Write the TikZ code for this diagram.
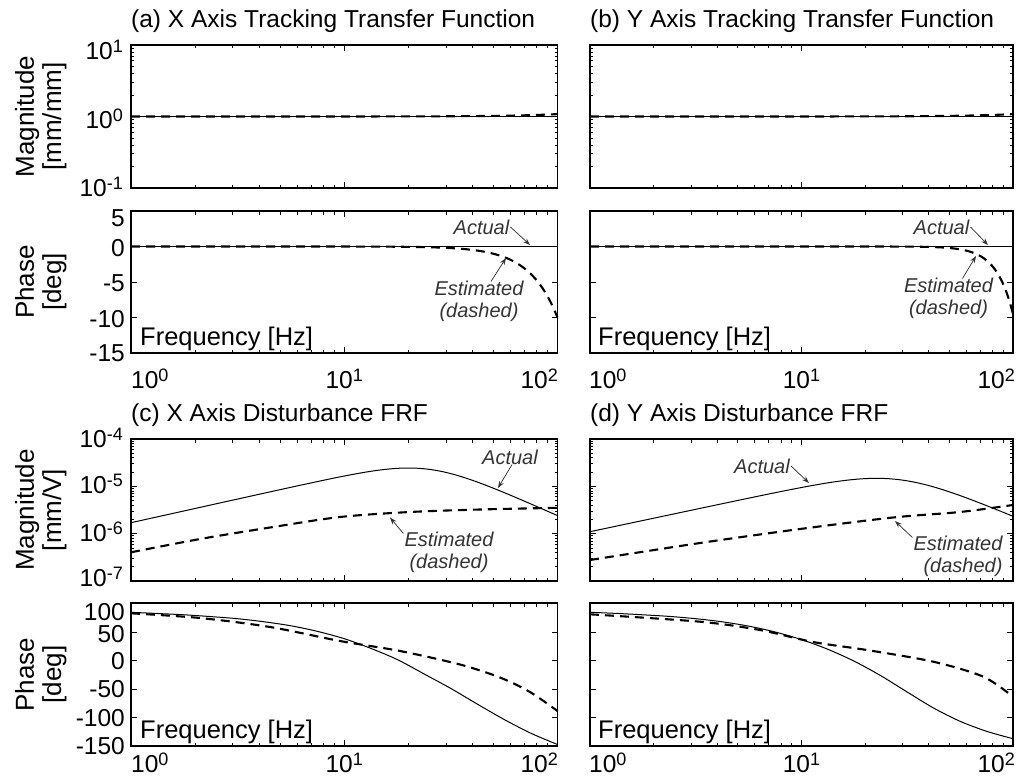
\documentclass[tikz,border=0pt]{standalone}
\usepackage{fontspec}
\setmainfont{Liberation Sans}
\usetikzlibrary{arrows.meta}

\definecolor{notegray}{gray}{0.2}

% power-of-ten tick label: base and raised exponent
\newcommand\tenpow[1]{10\raisebox{7pt}{\fontsize{18}{18}\selectfont #1}}

\tikzset{
  frame/.style={line width=1.9pt, line join=miter},
  tickline/.style={line width=0.8pt},
  actual/.style={line width=1.0pt},
  estimated/.style={line width=2.1pt, dash pattern=on 9pt off 6pt},
  note/.style={font=\fontsize{20}{22}\selectfont\itshape, text=notegray, inner sep=0pt},
  pointer/.style={-{Stealth[length=7pt,width=5pt]}, line width=0.75pt, notegray},
  ticklabel/.style={font=\fontsize{24.5}{26}\selectfont, inner sep=0pt},
  axlabel/.style={font=\fontsize{26}{28}\selectfont, inner sep=0pt, rotate=90, anchor=base},
  paneltitle/.style={font=\fontsize{24.5}{28}\selectfont, inner sep=0pt, anchor=base west},
  freqlabel/.style={font=\fontsize{25.5}{28}\selectfont, inner sep=0pt, anchor=base west},
}

% minor/major ticks of a two-decade log frequency axis: {x0}{width}{top}{bottom}
\newcommand\freqticks[4]{%
  \foreach \d in {0,1}{\foreach \k in {2,...,9}{%
    \pgfmathsetmacro\tx{#1+#2*(\d+log10(\k))/2}%
    \draw[tickline] (\tx,#3) -- ++(0,3.5) (\tx,#4) -- ++(0,-3.5);}}%
  \pgfmathsetmacro\tx{#1+#2/2}%
  \draw[tickline] (\tx,#3) -- ++(0,6) (\tx,#4) -- ++(0,-6);}

% log magnitude ticks on both sides: {x0}{x1}{top}{bottom}{decades}
\newcommand\magticks[5]{%
  \pgfmathsetmacro\hd{(#4-#3)/#5}%
  \pgfmathtruncatemacro\nd{#5-1}%
  \foreach \d in {0,...,\nd}{\foreach \k in {2,...,9}{%
    \pgfmathsetmacro\ty{#4-\hd*(\d+log10(\k))}%
    \draw[tickline] (#1,\ty) -- ++(3,0) (#2,\ty) -- ++(-3,0);}}%
  \foreach \d in {1,...,\nd}{%
    \pgfmathsetmacro\ty{#4-\hd*\d}%
    \draw[tickline] (#1,\ty) -- ++(6,0) (#2,\ty) -- ++(-6,0);}}

% linear phase ticks on both sides: {x0}{x1}{list of y}
\newcommand\phaseticks[3]{%
  \foreach \ty in {#3}{\draw[tickline] (#1,\ty) -- ++(6,0) (#2,\ty) -- ++(-6,0);}}

\begin{document}
\begin{tikzpicture}[x=1pt, y=-1pt]
\useasboundingbox (0,0) rectangle (1023,776);

% ---------------- ticks ----------------
\freqticks{131}{426.5}{45}{188}
\freqticks{590}{423}{45}{188}
\freqticks{131}{426.5}{211}{353}
\freqticks{590}{423}{211}{353}
\freqticks{131}{426.5}{439}{581}
\freqticks{590}{423}{439}{581}
\freqticks{131}{426.5}{603}{746}
\freqticks{590}{423}{603}{746}
\magticks{131}{557.5}{45}{188}{2}
\magticks{590}{1013}{45}{188}{2}
\magticks{131}{557.5}{439}{581}{3}
\magticks{590}{1013}{439}{581}{3}
\phaseticks{131}{557.5}{246.5,282,317.5}
\phaseticks{590}{1013}{246.5,282,317.5}
\phaseticks{131}{557.5}{632.2,660.7,689.2,717.7}
\phaseticks{590}{1013}{632.2,660.7,689.2,717.7}

% ---------------- curves ----------------
% (a) tracking magnitude
\draw[actual] (131,116.5) -- (557.5,116.5);
\draw[estimated] (131,116.5) -- plot[domain=1:2, samples=40]
  ({131+213.25*\x}, {116.5-71.5*log10(1+0.08*10^(2*\x-4))});
% (b) tracking magnitude
\draw[actual] (590,116.5) -- (1013,116.5);
\draw[estimated] (590,116.5) -- plot[domain=1:2, samples=40]
  ({590+211.5*\x}, {116.5-71.5*log10(1+0.08*10^(2*\x-4))});
% (a) tracking phase
\draw[actual] (131,246.5) -- (557.5,246.5);
\draw[estimated] (131,246.5) -- plot[domain=1:2, samples=60]
  ({131+213.25*\x}, {246.5+7.1*10*10^(3.3*(\x-2))});
% (b) tracking phase
\draw[actual] (590,246.5) -- (1013,246.5);
\draw[estimated] (590,246.5) -- plot[domain=1:2, samples=60]
  ({590+211.5*\x}, {246.5+7.1*9.5*10^(5.5*(\x-2))});

% (c) disturbance magnitude: soft maximum of the two asymptotes
\draw[actual] plot[domain=131:557.5, samples=90]
  (\x, {max(522.7-0.222*(\x-131), 515.5+0.444*(\x-557.5))
        + 17*ln(1+exp(-abs((522.7-0.222*(\x-131))-(515.5+0.444*(\x-557.5)))/17))});
\draw[estimated] plot[smooth] coordinates {(131,552.3) (200,539) (270,527.5) (340,517)
  (410,512) (480,509.5) (557.5,507.8)};
% (d) disturbance magnitude
\draw[actual] plot[domain=590:1013, samples=90]
  (\x, {max(531.7-0.212*(\x-590), 516+0.42*(\x-1013))
        + 18*ln(1+exp(-abs((531.7-0.212*(\x-590))-(516+0.42*(\x-1013)))/18))});
\draw[estimated] plot[smooth] coordinates {(590,560) (700,543) (800,529) (893,517.5)
  (960,512) (1013,505)};
% (c) disturbance phase
\draw[actual] plot[smooth] coordinates {(131,612.3) (157.7,613.5) (184.3,614.8) (211,616.6)
  (237.6,618.7) (264.3,621.8) (291,625.8) (317.6,631.4) (344.3,638.7) (370.9,648.4)
  (397.6,659.7) (424.2,674) (450.9,688.5) (477.5,704.2) (504.2,719.5) (530.8,733.2) (557.5,744.5)};
\draw[estimated] plot[smooth] coordinates {(131,613.3) (200,618) (270,627) (340,641)
  (400,651) (460,664.5) (500,677.5) (530,692) (557.5,711)};
% (d) disturbance phase
\draw[actual] plot[smooth] coordinates {(590,612.3) (616.4,613.4) (642.9,614.8) (669.3,616.4)
  (695.8,618.7) (722.2,621.8) (748.6,626.1) (775.1,632) (801.5,639.6) (827.9,649.3)
  (854.4,661.3) (880.8,675.7) (907.3,692.1) (933.7,708.1) (960.1,721.3) (986.6,731.3) (1013,738.7)};
\draw[estimated] plot[smooth] coordinates {(590,614.3) (700,621.7) (760,630) (813,642)
  (866.7,650) (933.3,661.7) (983.3,676.7) (1013,696.7)};

% ---------------- frames ----------------
\foreach \xa/\xb in {131/557.5, 590/1013}{
  \draw[frame] (\xa,45) rectangle (\xb,188);
  \draw[frame] (\xa,211) rectangle (\xb,353);
  \draw[frame] (\xa,439) rectangle (\xb,581);
  \draw[frame] (\xa,603) rectangle (\xb,746);
}

% ---------------- titles ----------------
\node[paneltitle] (ta) at (131,28) {(a) X Axis Tracking Transfer Function};
\node[paneltitle] (tb) at (590,28) {(b) Y Axis Tracking Transfer Function};
\node[paneltitle] (tc) at (131,421.7) {(c) X Axis Disturbance FRF};
\node[paneltitle] (td) at (590,421.7) {(d) Y Axis Disturbance FRF};

% ---------------- axis labels ----------------
\node[axlabel] (ma1) at (34,116.5) {Magnitude};
\node[axlabel] (ma2) at (61,116.5) {[mm/mm]};
\node[axlabel] (pa1) at (34,282) {Phase};
\node[axlabel] (pa2) at (61,282) {[deg]};
\node[axlabel] (mc1) at (34,510) {Magnitude};
\node[axlabel] (mc2) at (61,510) {[mm/V]};
\node[axlabel] (pc1) at (34,674.5) {Phase};
\node[axlabel] (pc2) at (61,674.5) {[deg]};

% ---------------- y tick labels ----------------
\node[ticklabel, anchor=base east] (ya1) at (123,59.3) {\tenpow{1}};
\node[ticklabel, anchor=base east] (ya2) at (123,128.5) {\tenpow{0}};
\node[ticklabel, anchor=base east] (ya3) at (123,196.5) {\tenpow{-1}};
\node[ticklabel, anchor=base east] (yp1) at (125,226) {5};
\node[ticklabel, anchor=base east] (yp2) at (125,256) {0};
\node[ticklabel, anchor=base east] (yp3) at (125,291) {-5};
\node[ticklabel, anchor=base east] (yp4) at (125,327) {-10};
\node[ticklabel, anchor=base east] (yp5) at (125,361) {-15};
\node[ticklabel, anchor=base east] (yc1) at (123,447) {\tenpow{-4}};
\node[ticklabel, anchor=base east] (yc2) at (123,493.3) {\tenpow{-5}};
\node[ticklabel, anchor=base east] (yc3) at (123,541.7) {\tenpow{-6}};
\node[ticklabel, anchor=base east] (yc4) at (123,586.7) {\tenpow{-7}};
\node[ticklabel, anchor=base east] (yq1) at (125,620) {100};
\node[ticklabel, anchor=base east] (yq2) at (125,642.5) {50};
\node[ticklabel, anchor=base east] (yq3) at (125,669) {0};
\node[ticklabel, anchor=base east] (yq4) at (125,697) {-50};
\node[ticklabel, anchor=base east] (yq5) at (125,726) {-100};
\node[ticklabel, anchor=base east] (yq6) at (125,754) {-150};

% ---------------- x tick labels ----------------
\foreach \row/\yb in {u/388, l/772}{
  \node[ticklabel, anchor=base west] (xl0\row) at (131,\yb) {\tenpow{0}};
  \node[ticklabel, anchor=base] (xl1\row) at (344.25,\yb) {\tenpow{1}};
  \node[ticklabel, anchor=base east] (xl2\row) at (558,\yb) {\tenpow{2}};
  \node[ticklabel, anchor=base west] (xr0\row) at (589,\yb) {\tenpow{0}};
  \node[ticklabel, anchor=base] (xr1\row) at (801.5,\yb) {\tenpow{1}};
  \node[ticklabel, anchor=base east] (xr2\row) at (1015,\yb) {\tenpow{2}};
}

% ---------------- frequency captions ----------------
\node[freqlabel] (fa) at (140,345) {Frequency [Hz]};
\node[freqlabel] (fb) at (598,345) {Frequency [Hz]};
\node[freqlabel] (fc) at (140,738) {Frequency [Hz]};
\node[freqlabel] (fd) at (598,738) {Frequency [Hz]};

% ---------------- annotations ----------------
% (a) phase
\node[note] (actA) at (481.5,227) {Actual};
\coordinate (tipActA) at (530,245);
\draw[pointer] ([xshift=1pt]actA.east) -- (tipActA);
\node[note, align=center] (estA) at (479,301) {Estimated\\(dashed)};
\coordinate (tipEstA) at (506,258);
\draw[pointer] ([xshift=12pt,yshift=-1pt]estA.north) -- (tipEstA);
% (b) phase
\node[note] (actB) at (941.5,227) {Actual};
\coordinate (tipActB) at (988,245);
\draw[pointer] ([xshift=1pt]actB.east) -- (tipActB);
\node[note, align=center] (estB) at (948.5,298) {Estimated\\(dashed)};
\coordinate (tipEstB) at (976,256);
\draw[pointer] ([xshift=14pt,yshift=-1pt]estB.north) -- (tipEstB);
% (c) magnitude
\node[note] (actC) at (510,457) {Actual};
\coordinate (tipActC) at (498,488);
\draw[pointer] ([xshift=2pt]actC.south) -- (tipActC);
\node[note, align=center] (estC) at (449,552) {Estimated\\(dashed)};
\coordinate (tipEstC) at (390,517.5);
\draw[pointer] ([xshift=-1pt,yshift=-2pt]estC.north west) -- (tipEstC);
% (d) magnitude
\node[note] (actD) at (762,466) {Actual};
\coordinate (tipActD) at (809,483);
\draw[pointer] ([xshift=1pt]actD.east) -- (tipActD);
\node[note, align=right] (estD) at (958,556) {Estimated\\(dashed)};
\coordinate (tipEstD) at (895,521);
\draw[pointer] ([xshift=-1pt,yshift=-2pt]estD.north west) -- (tipEstD);

\end{tikzpicture}
\end{document}
